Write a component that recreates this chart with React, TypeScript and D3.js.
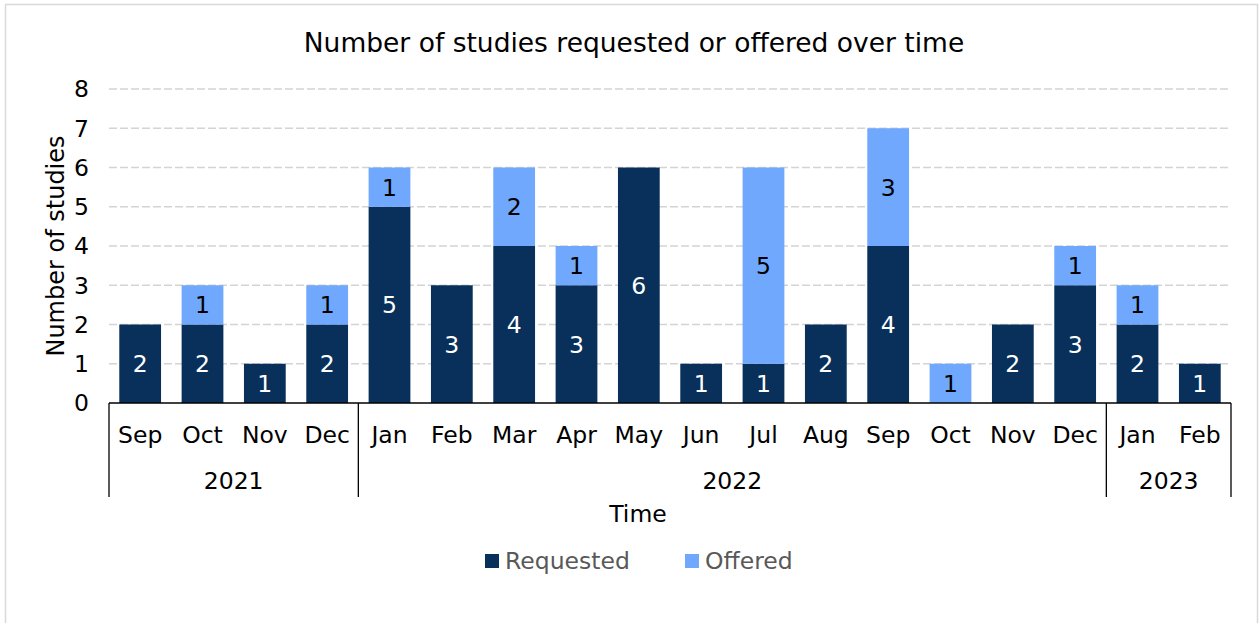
import React, { useEffect, useRef } from 'react';
import * as d3 from 'd3';

// chart data
const months = ['Sep', 'Oct', 'Nov', 'Dec', 'Jan', 'Feb', 'Mar', 'Apr', 'May', 'Jun', 'Jul', 'Aug', 'Sep', 'Oct', 'Nov', 'Dec', 'Jan', 'Feb'];
const years = ['2021', '2021', '2021', '2021', '2022', '2022', '2022', '2022', '2022', '2022', '2022', '2022', '2022', '2022', '2022', '2022', '2023', '2023'];
const requested = [2, 2, 1, 2, 5, 3, 4, 3, 6, 1, 1, 2, 4, 0, 2, 3, 2, 1];
const offered = [0, 1, 0, 1, 1, 0, 2, 1, 0, 0, 5, 0, 3, 1, 0, 1, 1, 0];
const seriesNames = ['Requested', 'Offered'];
const yTicks = [0, 1, 2, 3, 4, 5, 6, 7, 8];

const colors = ['#08305b', '#6fa8fc'];
const labelColors = ['#ffffff', '#000000'];
const FONT = '"DejaVu Sans", Verdana, sans-serif';
const FS = 23.5;

const App = () => {
  const svgRef = useRef<SVGSVGElement>(null);

  useEffect(() => {
    document.body.style.margin = '0';
    const width = 1260;
    const height = 623;
    const left = 109, right = 1231, top = 89, bottom = 403;

    const svg = d3.select(svgRef.current)
      .attr('width', width)
      .attr('height', height)
      .style('display', 'block');
    svg.selectAll('*').remove();

    // outer frame
    svg.append('rect')
      .attr('x', 5.5).attr('y', 4.5)
      .attr('width', 1252).attr('height', 630)
      .attr('fill', '#fff')
      .attr('stroke', '#d9d9d9')
      .attr('stroke-width', 1.5);

    const keys = months.map((m, i) => `${m}-${i}`);
    const x = d3.scaleBand().domain(keys).range([left, right]).paddingInner(0.33).paddingOuter(0.165);
    const y = d3.scaleLinear().domain([0, 8]).range([bottom, top]);

    // gridlines
    svg.append('g').selectAll('line')
      .data(yTicks.filter(d => d > 0))
      .enter().append('line')
      .attr('x1', left).attr('x2', right)
      .attr('y1', d => y(d)).attr('y2', d => y(d))
      .attr('stroke', '#d4d4d4')
      .attr('stroke-width', 1.3)
      .attr('stroke-dasharray', '8,3');

    // y tick labels
    svg.append('g').selectAll('text')
      .data(yTicks)
      .enter().append('text')
      .attr('x', 89)
      .attr('y', d => y(d))
      .attr('dy', '0.36em')
      .attr('text-anchor', 'end')
      .attr('font-family', FONT)
      .attr('font-size', FS)
      .attr('fill', '#000')
      .text(d => d);

    // stacked bars
    const table = keys.map((k, i) => ({ key: k, Requested: requested[i], Offered: offered[i] }));
    const stacked = d3.stack<any>().keys(seriesNames)(table);

    stacked.forEach((layer, li) => {
      const g = svg.append('g');
      g.selectAll('rect')
        .data(layer.filter(d => d[1] - d[0] > 0))
        .enter().append('rect')
        .attr('x', d => x(d.data.key)!)
        .attr('y', d => y(d[1]))
        .attr('width', x.bandwidth())
        .attr('height', d => y(d[0]) - y(d[1]))
        .attr('fill', colors[li]);
      g.selectAll('text')
        .data(layer.filter(d => d[1] - d[0] > 0))
        .enter().append('text')
        .attr('x', d => x(d.data.key)! + x.bandwidth() / 2)
        .attr('y', d => y((d[0] + d[1]) / 2))
        .attr('dy', '0.36em')
        .attr('text-anchor', 'middle')
        .attr('font-family', FONT)
        .attr('font-size', FS)
        .attr('fill', labelColors[li])
        .text(d => d[1] - d[0]);
    });

    // category axis
    const step = x.step();
    const ax = svg.append('g');
    ax.append('line')
      .attr('x1', left).attr('x2', right)
      .attr('y1', bottom).attr('y2', bottom)
      .attr('stroke', '#000').attr('stroke-width', 1.3);

    ax.selectAll('text.month')
      .data(keys)
      .enter().append('text')
      .attr('class', 'month')
      .attr('x', d => x(d)! + x.bandwidth() / 2)
      .attr('y', 435)
      .attr('dy', '0.36em')
      .attr('text-anchor', 'middle')
      .attr('font-family', FONT)
      .attr('font-size', FS)
      .attr('fill', '#000')
      .text((d, i) => months[i]);

    // year groups
    const groups = d3.groups(keys.map((k, i) => ({ k, yr: years[i], i })), d => d.yr);
    const bounds: number[] = [left];
    groups.forEach(([yr, items]) => {
      const start = left + items[0].i * step;
      const end = left + (items[items.length - 1].i + 1) * step;
      bounds.push(end);
      ax.append('text')
        .attr('x', (start + end) / 2)
        .attr('y', 481)
        .attr('dy', '0.36em')
        .attr('text-anchor', 'middle')
        .attr('font-family', FONT)
        .attr('font-size', FS)
        .attr('fill', '#000')
        .text(yr);
    });
    ax.selectAll('line.div')
      .data(bounds)
      .enter().append('line')
      .attr('class', 'div')
      .attr('x1', d => d).attr('x2', d => d)
      .attr('y1', bottom).attr('y2', 497)
      .attr('stroke', '#000').attr('stroke-width', 1.3);

    // titles
    svg.append('text')
      .attr('x', 634).attr('y', 42)
      .attr('dy', '0.36em')
      .attr('text-anchor', 'middle')
      .attr('font-family', FONT)
      .attr('font-size', 26.5)
      .attr('fill', '#000')
      .text('Number of studies requested or offered over time');

    svg.append('text')
      .attr('transform', `translate(55, 246) rotate(-90)`)
      .attr('dy', '0.36em')
      .attr('text-anchor', 'middle')
      .attr('font-family', FONT)
      .attr('font-size', 24)
      .attr('fill', '#000')
      .text('Number of studies');

    svg.append('text')
      .attr('x', 638).attr('y', 514)
      .attr('dy', '0.36em')
      .attr('text-anchor', 'middle')
      .attr('font-family', FONT)
      .attr('font-size', FS)
      .attr('fill', '#000')
      .text('Time');

    // legend
    const legendX = [485, 685];
    seriesNames.forEach((name, i) => {
      svg.append('rect')
        .attr('x', legendX[i]).attr('y', 554)
        .attr('width', 14).attr('height', 14)
        .attr('fill', colors[i]);
      svg.append('text')
        .attr('x', legendX[i] + 20).attr('y', 561)
        .attr('dy', '0.36em')
        .attr('font-family', FONT)
        .attr('font-size', FS)
        .attr('fill', '#595959')
        .text(name);
    });
  }, []);

  return <svg ref={svgRef} />;
};

export default App;
